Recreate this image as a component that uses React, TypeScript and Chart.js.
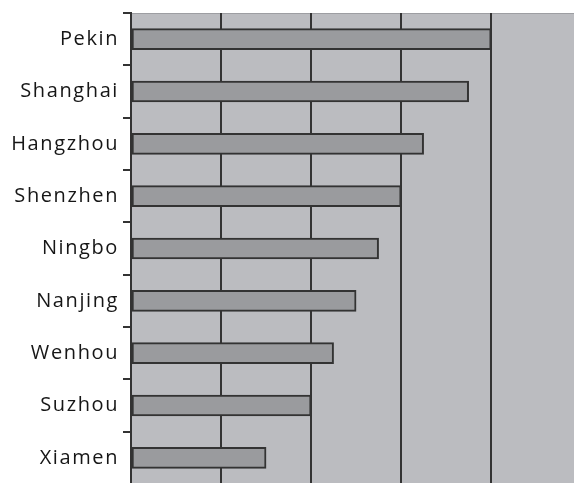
import React, { useEffect, useRef } from "react";
import { Chart, registerables } from "chart.js";

Chart.register(...registerables);

const cities = ["Pekin", "Shanghai", "Hangzhou", "Shenzhen", "Ningbo", "Nanjing", "Wenhou", "Suzhou", "Xiamen"];
const values = [4, 3.75, 3.25, 3, 2.75, 2.5, 2.25, 2, 1.5];
const axisMax = 4.92;

const bgPlugin = {
  id: "plotBg",
  beforeDraw(chart: any) {
    const { ctx, chartArea } = chart;
    (ctx as any).letterSpacing = "1.6px";
    ctx.save();
    ctx.fillStyle = "#bbbcc0";
    ctx.fillRect(chartArea.left, chartArea.top, chartArea.right - chartArea.left, chartArea.bottom - chartArea.top);
    ctx.strokeStyle = "#9d9ea2";
    ctx.lineWidth = 1;
    ctx.beginPath();
    ctx.moveTo(chartArea.left, chartArea.top + 0.5);
    ctx.lineTo(chartArea.right, chartArea.top + 0.5);
    ctx.stroke();
    ctx.restore();
  },
};

export default function App() {
  const ref = useRef<HTMLCanvasElement>(null);
  useEffect(() => {
    if (!ref.current) return;
    const chart = new Chart(ref.current, {
      type: "bar",
      data: {
        labels: cities,
        datasets: [
          {
            data: values,
            backgroundColor: "#9a9b9e",
            borderColor: "#333333",
            borderWidth: 2,
            borderSkipped: false,
            barThickness: 21,
          },
        ],
      },
      options: {
        indexAxis: "y",
        animation: false,
        responsive: false,
        maintainAspectRatio: false,
        layout: { padding: { top: 13, left: 0, right: 0, bottom: 0 } },
        plugins: { legend: { display: false }, tooltip: { enabled: false } },
        scales: {
          x: {
            min: 0,
            max: axisMax,
            ticks: { display: false, stepSize: 1 },
            border: { display: false },
            grid: {
              drawTicks: false,
              lineWidth: 2,
              color: (c: any) => (c.tick && Number.isInteger(c.tick.value) && c.tick.value > 0 ? "#333333" : "transparent"),
            },
            afterFit: (s: any) => {
              s.height = 0;
              s.paddingLeft = 0;
              s.paddingRight = 0;
            },
          },
          y: {
            border: { display: true, color: "#333333", width: 2 },
            grid: {
              drawOnChartArea: false,
              drawTicks: true,
              tickLength: 8,
              color: "#333333",
              lineWidth: 2,
              offset: true,
            },
            ticks: {
              color: "#161616",
              padding: 4,
              font: { family: "'Open Sans', sans-serif", size: 20 },
            },
            afterFit: (s: any) => {
              s.width = 131;
              s.paddingTop = 0;
              s.paddingBottom = 0;
            },
          },
        },
      },
      plugins: [bgPlugin],
    });
    return () => chart.destroy();
  }, []);
  return (
    <div style={{ position: "fixed", left: 0, top: 0, width: 574, height: 483, overflow: "hidden", background: "#fff" }}>
      <canvas ref={ref} width={574} height={484} style={{ display: "block" }} />
    </div>
  );
}
